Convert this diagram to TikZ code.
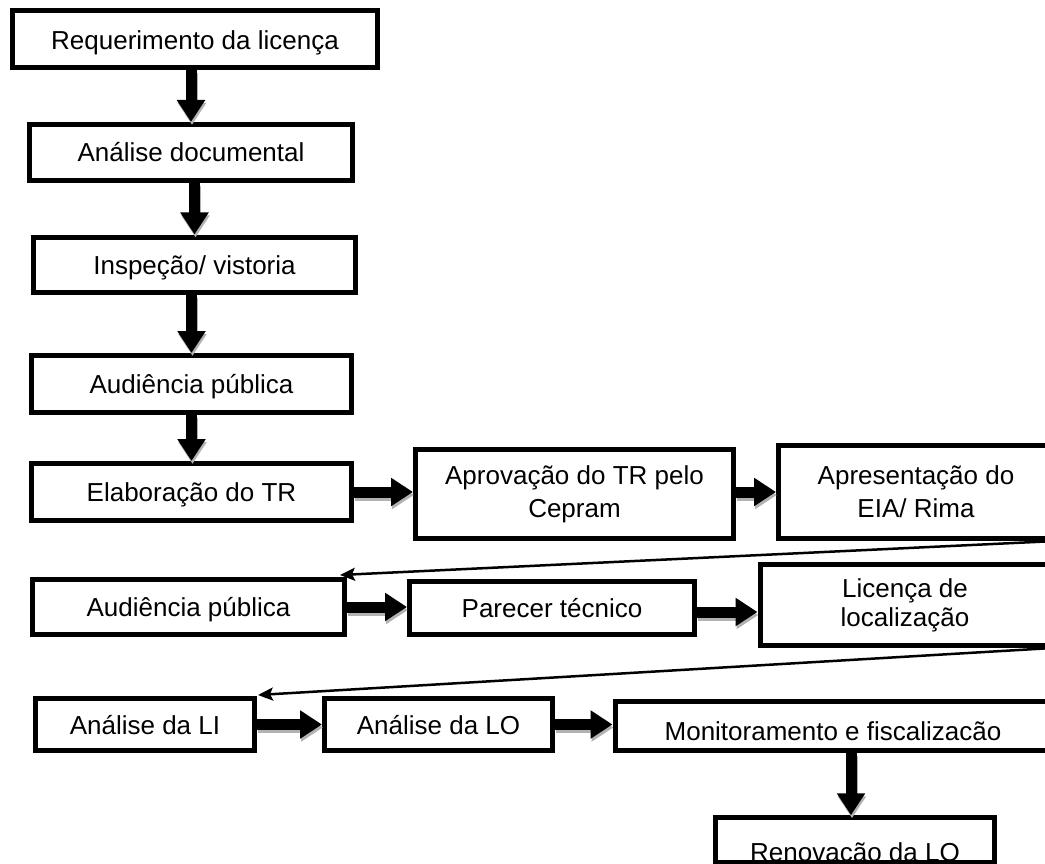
\documentclass[tikz,border=0pt]{standalone}
\usepackage{fontspec}
\setmainfont{Liberation Sans}
\usetikzlibrary{arrows.meta}

% thick block arrow with a soft grey drop shadow
\newcommand\flowarrow[2]{%
  \draw[flow, draw=black!30, transform canvas={shift={(1pt,-3pt)}}] #1 -- #2;
  \draw[flow] #1 -- #2;}

\begin{document}
\begin{tikzpicture}[x=1pt,y=-1pt,
  stage/.style={draw=black, line width=5pt, fill=white, rectangle, inner sep=0pt,
    align=center, font=\fontsize{26}{33}\selectfont},
  oneline/.style={stage, text height=19pt, text depth=0pt},
  flow/.style={line width=11pt, -{Triangle[length=22pt,width=27pt]}},
  link/.style={line width=2.5pt, -{Stealth[length=15pt,width=13pt,inset=3pt]}}
]
\clip (0,0) rectangle (1045,864);

% licensing stages
\node[oneline, text height=22pt, minimum width=365pt, minimum height=57pt] (req) at (195,39) {Requerimento da licença};
\node[oneline, minimum width=323pt, minimum height=56pt] (doc) at (191,152.5) {Análise documental};
\node[oneline, minimum width=322pt, minimum height=55.5pt] (insp) at (194.5,264.75) {Inspeção/ vistoria};
\node[oneline, minimum width=320pt, minimum height=57pt] (aud1) at (191.5,384) {Audiência pública};
\node[oneline, minimum width=320pt, minimum height=57pt] (tr) at (191.5,492) {Elaboração do TR};
\node[stage, minimum width=318pt, minimum height=89pt] (cep) at (574.5,494) {Aprovação do TR pelo\\Cepram};
\node[stage, minimum width=275pt, minimum height=93pt] (eia) at (916,492) {Apresentação do\\EIA/ Rima};
\node[oneline, minimum width=312pt, minimum height=55pt] (aud2) at (188.5,607) {Audiência pública};
\node[oneline, minimum width=285pt, minimum height=53pt] (par) at (552,608) {Parecer técnico};
\node[stage, font=\fontsize{26}{29}\selectfont, minimum width=290pt, minimum height=81pt] (ll) at (905,605) {Licença de\\localização};
\node[oneline, minimum width=219pt, minimum height=52pt] (li) at (145,724.5) {Análise da LI};
\node[oneline, minimum width=228pt, minimum height=52pt] (lo) at (438.5,724.5) {Análise da LO};
\node[oneline, text height=28pt, minimum width=436pt, minimum height=49pt] (mon) at (833,726) {Monitoramento e fiscalizacão};
\node[oneline, text height=42pt, minimum width=279pt, minimum height=44.5pt] (ren) at (855,840) {Renovação da LO};

% vertical flow
\flowarrow{(req.south -| doc.north)}{(doc.north)}
\flowarrow{(doc.south -| insp.north)}{(insp.north)}
\flowarrow{(insp.south -| aud1.north)}{(aud1.north)}
\flowarrow{(aud1.south -| tr.north)}{(tr.north)}

% horizontal flow
\flowarrow{(tr.east)}{(tr.east -| cep.west)}
\flowarrow{(cep.east |- eia.west)}{(eia.west)}
\flowarrow{(aud2.east)}{(aud2.east -| par.west)}
\flowarrow{([yshift=-4pt]par.east)}{([yshift=-4pt]par.east -| ll.west)}
\flowarrow{(li.east)}{(li.east -| lo.west)}
\flowarrow{(lo.east)}{(lo.east -| mon.west)}
\flowarrow{([xshift=-4pt]mon.south -| ren.north)}{([xshift=-4pt]ren.north)}

% return links to the next row
\draw[link] (eia.south east) -- ([shift={(-7,-2)}]aud2.north east);
\draw[link] (ll.south east) -- ([shift={(1,-1)}]li.north east);
\end{tikzpicture}
\end{document}
